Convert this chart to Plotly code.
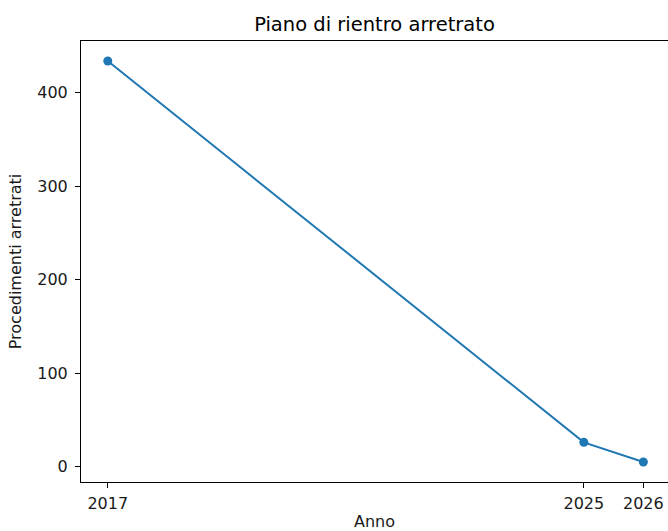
import plotly.graph_objects as go

years = [2017, 2025, 2026]
arretrati = [434, 26, 5]
x_ticks = [2017, 2025, 2026]
y_ticks = [0, 100, 200, 300, 400]

fig = go.Figure()
fig.add_trace(go.Scatter(
    x=years, y=arretrati, mode="lines+markers",
    line=dict(color="#1f77b4", width=2),
    marker=dict(color="#1f77b4", size=9),
    showlegend=False, cliponaxis=False,
))

font = "DejaVu Sans"
fig.update_layout(
    width=668, height=531,
    margin=dict(l=81, r=0, t=41, b=49, autoexpand=False),
    paper_bgcolor="white", plot_bgcolor="white",
    font=dict(family=font, size=16, color="#1a1a1a"),
    title=dict(text="Piano di rientro arretrato", x=0.5, xref="paper", xanchor="center",
               y=1 - 24/531, yanchor="middle", font=dict(family=font, size=19.5, color="black")),
    xaxis=dict(
        range=[2016.55, 2026.414], tickvals=x_ticks, ticktext=[str(v) for v in x_ticks],
        showgrid=False, zeroline=False, showline=True, linecolor="black", linewidth=1,
        mirror=True, ticks="outside", ticklen=5, tickcolor="black", automargin=False,
        tickfont=dict(size=16), ticklabelstandoff=2,
        title=dict(text="Anno", standoff=4, font=dict(family=font, size=16)),
    ),
    yaxis=dict(
        range=[-16.45, 455.45], tickvals=y_ticks,
        showgrid=False, zeroline=False, showline=True, linecolor="black", linewidth=1,
        ticks="outside", ticklen=5, tickcolor="black", automargin=False,
        tickfont=dict(size=16), ticklabelstandoff=4,
        title=dict(text="Procedimenti arretrati", standoff=11, font=dict(family=font, size=16)),
    ),
)

fig.write_html("out.html", config={"displayModeBar": False},
               post_script="document.body.style.margin='0';document.body.style.overflow='hidden';")
